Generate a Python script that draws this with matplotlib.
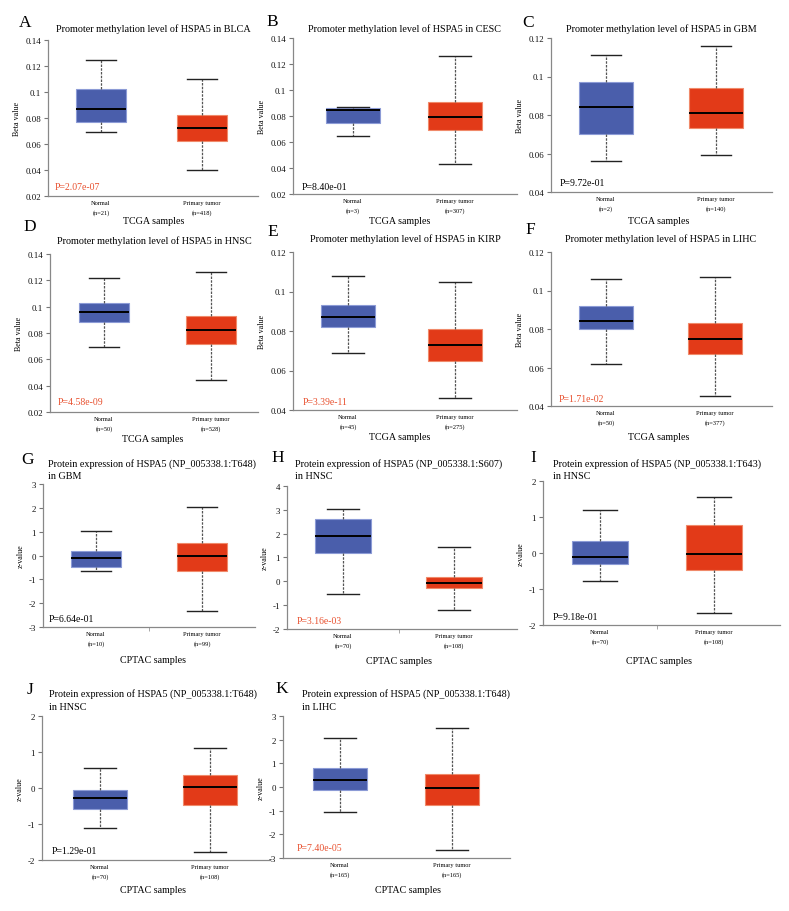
import matplotlib
matplotlib.use("Agg")
import matplotlib.pyplot as plt
from matplotlib.ticker import FuncFormatter

plt.rcParams['font.family'] = ['Liberation Serif', 'DejaVu Serif']

# ---------------- data ----------------
letters = list("ABCDEFGHIJK")
titles = [
    "Promoter methylation level of HSPA5 in BLCA",
    "Promoter methylation level of HSPA5 in CESC",
    "Promoter methylation level of HSPA5 in GBM",
    "Promoter methylation level of HSPA5 in HNSC",
    "Promoter methylation level of HSPA5 in KIRP",
    "Promoter methylation level of HSPA5 in LIHC",
    "Protein expression of HSPA5 (NP_005338.1:T648)\nin GBM",
    "Protein expression of HSPA5 (NP_005338.1:S607)\nin HNSC",
    "Protein expression of HSPA5 (NP_005338.1:T643)\nin HNSC",
    "Protein expression of HSPA5 (NP_005338.1:T648)\nin HNSC",
    "Protein expression of HSPA5 (NP_005338.1:T648)\nin LIHC",
]
groups = ["Normal", "Primary tumor"]
n_normal = [21, 3, 2, 50, 45, 50, 10, 70, 70, 70, 165]
n_tumor = [418, 307, 140, 528, 275, 377, 99, 108, 108, 108, 165]
p_values = ["2.07e-07", "8.40e-01", "9.72e-01", "4.58e-09", "3.39e-11", "1.71e-02",
            "6.64e-01", "3.16e-03", "9.18e-01", "1.29e-01", "7.40e-05"]
p_significant = [True, False, False, True, True, True, False, True, False, False, True]
# [whisker low, Q1, median, Q3, whisker high]
normal_stats = [
    [0.069, 0.077, 0.087, 0.102, 0.125],
    [0.065, 0.075, 0.085, 0.086, 0.087],
    [0.056, 0.070, 0.084, 0.097, 0.111],
    [0.069, 0.088, 0.096, 0.103, 0.122],
    [0.069, 0.082, 0.087, 0.093, 0.108],
    [0.062, 0.080, 0.084, 0.092, 0.106],
    [-0.63, -0.47, -0.10, 0.18, 1.02],
    [-0.52, 1.18, 1.90, 2.62, 3.05],
    [-0.77, -0.30, -0.12, 0.32, 1.20],
    [-1.10, -0.58, -0.27, -0.05, 0.56],
    [-1.05, -0.12, 0.30, 0.82, 2.07],
]
tumor_stats = [
    [0.040, 0.062, 0.072, 0.082, 0.110],
    [0.043, 0.069, 0.079, 0.091, 0.126],
    [0.059, 0.073, 0.081, 0.094, 0.116],
    [0.044, 0.072, 0.082, 0.093, 0.126],
    [0.046, 0.065, 0.073, 0.081, 0.105],
    [0.045, 0.067, 0.075, 0.083, 0.107],
    [-2.33, -0.63, 0.00, 0.53, 2.02],
    [-1.22, -0.30, -0.08, 0.18, 1.45],
    [-1.67, -0.48, -0.02, 0.78, 1.55],
    [-1.77, -0.47, 0.03, 0.35, 1.10],
    [-2.67, -0.78, -0.06, 0.57, 2.48],
]
y_ticks = [
    [0.02, 0.04, 0.06, 0.08, 0.10, 0.12, 0.14],
    [0.02, 0.04, 0.06, 0.08, 0.10, 0.12, 0.14],
    [0.04, 0.06, 0.08, 0.10, 0.12],
    [0.02, 0.04, 0.06, 0.08, 0.10, 0.12, 0.14],
    [0.04, 0.06, 0.08, 0.10, 0.12],
    [0.04, 0.06, 0.08, 0.10, 0.12],
    [-3, -2, -1, 0, 1, 2, 3],
    [-2, -1, 0, 1, 2, 3, 4],
    [-2, -1, 0, 1, 2],
    [-2, -1, 0, 1, 2],
    [-3, -2, -1, 0, 1, 2, 3],
]
y_labels = ["Beta value"] * 6 + ["z-value"] * 5
x_labels = ["TCGA samples"] * 6 + ["CPTAC samples"] * 5

# ---------------- layout (pixels) ----------------
W, H = 789, 912
axes_px = [  # left, top, right, bottom
    (48, 41, 258, 197), (293, 39, 517, 195), (551, 39, 772, 193),
    (50, 255, 258, 413), (293, 253, 517, 411), (551, 253, 772, 407),
    (43, 485, 255, 628), (287, 487, 517, 630), (543, 482, 780, 626),
    (42, 717, 270, 861), (283, 717, 510, 859),
]
box_px = [(101, 202), (353, 455), (606, 716), (104, 211), (348, 455), (606, 715),
          (96, 202), (343, 454), (600, 714), (100, 210), (340, 452)]
letter_px = [(25, 23), (272, 22), (528, 23), (30, 227), (273, 232), (530, 230),
             (28, 460), (278, 458), (533, 458), (30, 690), (282, 689)]
title_px = [(153, 29), (405, 29), (661, 29), (154, 241), (405, 239), (661, 239),
            (48, 464), (295, 464), (553, 464), (49, 694), (302, 694)]
pval_px = [(55, 188), (302, 188), (560, 184), (58, 403), (303, 403), (559, 399),
           (49, 620), (297, 622), (553, 618), (52, 852), (297, 849)]
xlab_px = [(154, 221), (400, 221), (659, 221), (153, 440), (400, 438), (659, 438),
           (153, 661), (399, 662), (659, 662), (153, 891), (408, 891)]
mid_tick = [False] * 6 + [True, True, True, False, False]

BLUE, BLUE_E = "#4a5eab", "#8c9bd6"
RED, RED_E = "#e23a18", "#f08a6a"
PRED = "#e8502e"

fig = plt.figure(figsize=(W / 100, H / 100), dpi=100)


def fx(x):
    return x / W


def fy(y):
    return 1 - y / H


for i in range(11):
    L, T, R, B = axes_px[i]
    ax = fig.add_axes([fx(L), fy(B), (R - L) / W, (B - T) / H])
    pos = [(c - L) / (R - L) for c in box_px[i]]
    stats = []
    for s, lab in zip((normal_stats[i], tumor_stats[i]), groups):
        stats.append(dict(whislo=s[0], q1=s[1], med=s[2], q3=s[3], whishi=s[4],
                          fliers=[], label=lab))
    bp = ax.bxp(stats, positions=pos, widths=0.24, capwidths=0.14,
                showfliers=False, patch_artist=True,
                medianprops=dict(color="black", lw=1.4),
                whiskerprops=dict(color="#555555", lw=0.9, linestyle=(0, (2, 1))),
                capprops=dict(color="#222222", lw=1.0))
    for patch, fc, ec in zip(bp["boxes"], (BLUE, RED), (BLUE_E, RED_E)):
        patch.set_facecolor(fc)
        patch.set_edgecolor(ec)
        patch.set_linewidth(0.8)
    ax.set_xlim(0, 1)
    yt = y_ticks[i]
    ax.set_ylim(yt[0], yt[-1])
    ax.set_yticks(yt)
    ax.yaxis.set_major_formatter(FuncFormatter(lambda v, p: f"{round(v, 4):g}"))
    ax.tick_params(axis="y", labelsize=6.4, length=3, width=0.8, color="#777777",
                   pad=2, labelcolor="#111111")
    labels = [f"{groups[0]}\n(n={n_normal[i]})", f"{groups[1]}\n(n={n_tumor[i]})"]
    ax.set_xticks(pos)
    ax.set_xticklabels(labels, fontsize=4.6, linespacing=1.9)
    ax.tick_params(axis="x", length=0, pad=3)
    if mid_tick[i]:
        ax.set_xticks([(pos[0] + pos[1]) / 2], minor=True)
        ax.tick_params(axis="x", which="minor", length=3, width=0.6, color="#999999")
    for sp in ("top", "right"):
        ax.spines[sp].set_visible(False)
    for sp in ("left", "bottom"):
        ax.spines[sp].set_color("#888888")
        ax.spines[sp].set_linewidth(0.9)
    ax.set_ylabel(y_labels[i], fontsize=5.8, labelpad=3)

    # panel letter
    lx, ly = letter_px[i]
    fig.text(fx(lx), fy(ly), letters[i], fontsize=12.5, ha="center", va="center")
    # title
    tx, ty = title_px[i]
    lines = titles[i].split("\n")
    if len(lines) == 1:
        fig.text(fx(tx), fy(ty), lines[0], fontsize=7.3, ha="center", va="center")
    else:
        for k, ln in enumerate(lines):
            fig.text(fx(tx), fy(ty + 13 * k), ln, fontsize=7.3, ha="left", va="center")
    # p-value
    px_, py_ = pval_px[i]
    fig.text(fx(px_), fy(py_), "P=" + p_values[i], fontsize=7,
             color=PRED if p_significant[i] else "black", ha="left", va="center")
    # x label
    xx, xy = xlab_px[i]
    fig.text(fx(xx), fy(xy), x_labels[i], fontsize=7.2, ha="center", va="center")

fig.savefig("out.png", dpi=100, facecolor="white")
